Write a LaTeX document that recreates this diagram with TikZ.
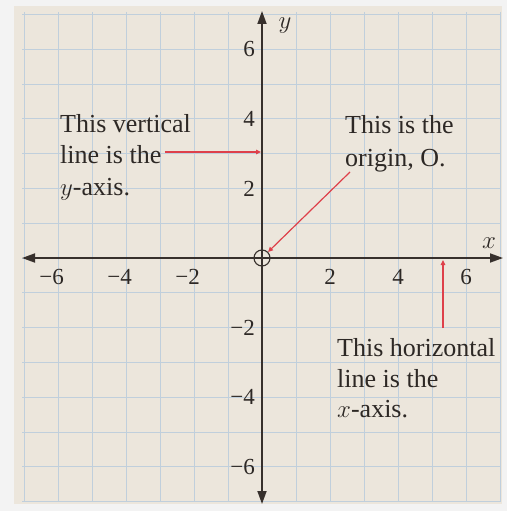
\documentclass[tikz,border=0pt]{standalone}
\usepackage{fontspec}
\setmainfont{Liberation Serif}
\usetikzlibrary{arrows.meta}
\definecolor{paper}{RGB}{236,230,220}
\definecolor{outside}{RGB}{243,243,243}
\definecolor{gridc}{RGB}{192,207,220}
\definecolor{axisc}{RGB}{55,48,44}
\definecolor{inkc}{RGB}{45,40,37}
\definecolor{redc}{RGB}{222,64,74}
\tikzset{
  gridline/.style={draw=gridc, line width=0.75pt},
  axisline/.style={draw=axisc, line width=1.8pt, {Triangle[length=13pt,width=9pt]}-{Triangle[length=13pt,width=9pt]}},
  ticklab/.style={text=inkc, inner sep=0pt, font=\fontsize{23}{26}\selectfont},
  lbl/.style={text=inkc, inner sep=0pt, anchor=base west, font=\fontsize{26}{31.5}\selectfont},
  redarrow/.style={draw=redc, line width=1.2pt, -{Triangle[length=5pt,width=4.5pt]}}
}
\begin{document}
\begin{tikzpicture}[x=1pt,y=-1pt]
\fill[outside] (0,0) rectangle (507,511);
\useasboundingbox (0,0) rectangle (507,511);
\fill[paper] (14,6) rectangle (502,504);
% grid
\foreach \k in {-7,...,7} {
  \draw[gridline] ({262+34*\k},12) -- ({262+34*\k},502);
  \draw[gridline] (22,{258+34.8*\k}) -- (501,{258+34.8*\k});
}
% axes
\coordinate (O) at (262,258);
\coordinate (xl) at (22,258);
\coordinate (xr) at (503,258);
\coordinate (yt) at (262,11);
\coordinate (yb) at (262,504);
\draw[axisline] (xl) -- (xr);
\draw[axisline] (yb) -- (yt);
\node[circle, draw=axisc, line width=1.1pt, minimum size=16pt, inner sep=0pt] (orig) at (O) {};
\node[text=inkc, inner sep=0pt, font=\fontsize{26}{30}\selectfont] (ylab) at (285,26) {$y$};
\node[text=inkc, inner sep=0pt, font=\fontsize{26}{30}\selectfont] (xlab) at (489,243) {$x$};
% x tick labels
\foreach \v/\t in {-6/{\llap{−}6},-4/{\llap{−}4},-2/{\llap{−}2},2/2,4/4,6/6} {
  \node[ticklab] (xt\v) at ({262+34*\v},277) {\t};
}
% y tick labels
\foreach \v/\t in {6/6,4/4,2/2,-2/{−2},-4/{−4},-6/{−6}} {
  \node[ticklab, anchor=east] (yt\v) at (255,{258-34.8*\v}) {\t};
}
% left annotation
\node[lbl] (l1) at (60,132) {This vertical};
\node[lbl] (l2) at (60,163) {line is the};
\node[lbl] (l3) at (60,195) {$y$-axis.};
% origin annotation
\node[lbl] (r1) at (345,133) {This is the};
\node[lbl] (r2) at (345,166) {origin, O.};
% bottom annotation
\node[lbl] (h1) at (337,356) {This horizontal};
\node[lbl] (h2) at (337,387) {line is the};
\node[lbl] (h3) at (337,417) {$x$-axis.};
% red arrows
\coordinate (a1s) at (165,152);
\coordinate (a1e) at (261,152);
\draw[redarrow] (a1s) -- (a1e);
\coordinate (a2s) at (350,172);
\draw[redarrow] (a2s) -- (orig.45);
\coordinate (a3s) at (443,328);
\coordinate (a3e) at (443,260);
\draw[redarrow] (a3s) -- (a3e);
\end{tikzpicture}
\end{document}
